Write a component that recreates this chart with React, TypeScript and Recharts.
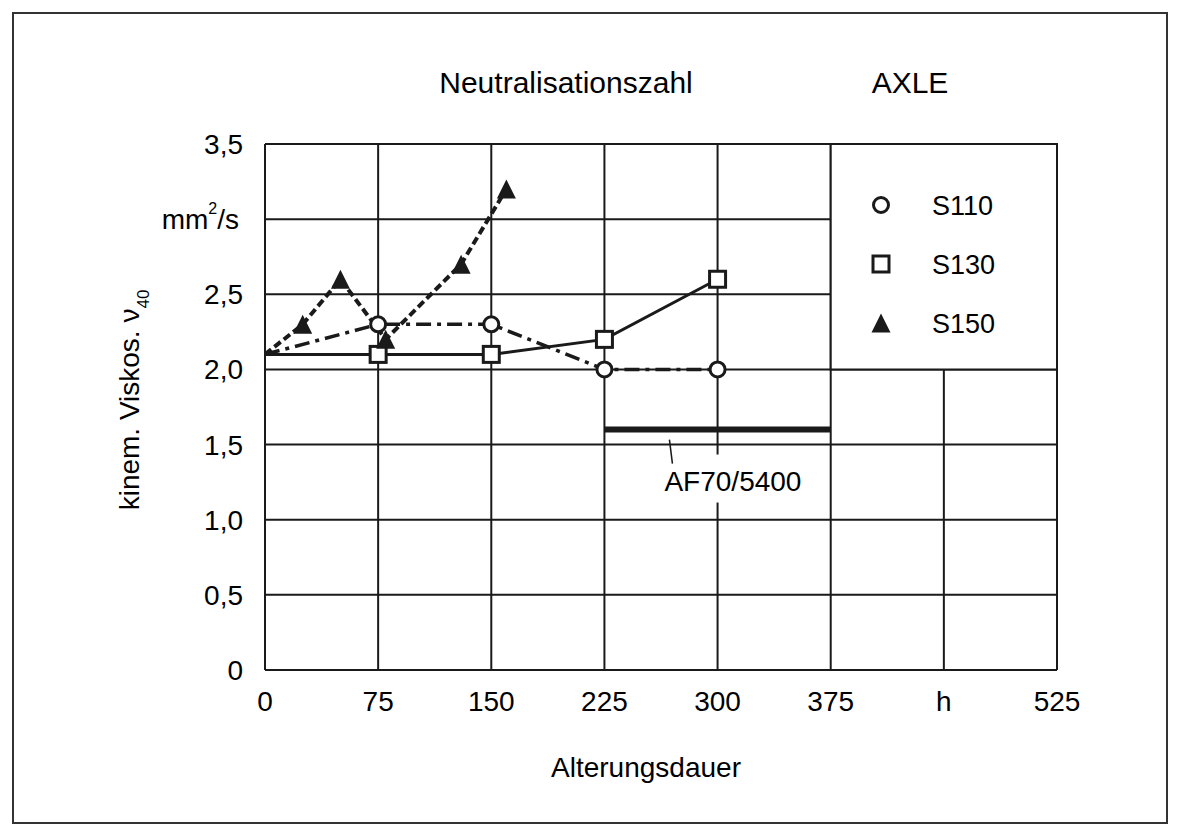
import React from 'react';
import {
  LineChart,
  Line,
  XAxis,
  YAxis,
  CartesianGrid,
  ReferenceArea,
  ReferenceLine,
  Legend
} from 'recharts';

// Ageing time in hours, kinematic viscosity at 40 °C in mm²/s
const s110Hours = [0, 75, 150, 225, 300];
const s110Visc = [2.1, 2.3, 2.3, 2.0, 2.0];

const s130Hours = [0, 75, 150, 225, 300];
const s130Visc = [2.1, 2.1, 2.1, 2.2, 2.6];

const s150Hours = [0, 25, 50, 80, 130, 160];
const s150Visc = [2.1, 2.3, 2.6, 2.2, 2.7, 3.2];

const xTicks = [0, 75, 150, 225, 300, 375, 450, 525];
const yTicks = [0, 0.5, 1, 1.5, 2, 2.5, 3, 3.5];

// reference band of the fresh oil
const afBand = { name: 'AF70/5400', from: 225, to: 375, value: 1.6 };

// box that holds the legend
const legendBox = { x1: 375, x2: 525, y1: 2, y2: 3.5 };

const INK = '#1a1a1a';
const FONT = '"Liberation Sans", Arial, Helvetica, sans-serif';
const FS = 28;

const zip = (xs: number[], ys: number[]) => xs.map((x, i) => ({ x, y: ys[i] }));

const s110 = zip(s110Hours, s110Visc);
const s130 = zip(s130Hours, s130Visc);
const s150 = zip(s150Hours, s150Visc);

const CircleMark = ({ cx, cy, r = 7.5 }: any) => (
  <circle cx={cx} cy={cy} r={r} fill="#fff" stroke={INK} strokeWidth={3} />
);

const SquareMark = ({ cx, cy, s = 16 }: any) => (
  <rect x={cx - s / 2} y={cy - s / 2} width={s} height={s} fill="#fff" stroke={INK} strokeWidth={3} />
);

const TriangleMark = ({ cx, cy, h = 9.5 }: any) => (
  <polygon points={`${cx},${cy - h} ${cx - h},${cy + h} ${cx + h},${cy + h}`} fill={INK} />
);

// no marker on the shared starting value
const dotFor = (Mark: React.FC<any>) => (props: any) => {
  if (props.payload.x === 0) return <g key={props.index} />;
  return <Mark key={props.index} cx={props.cx} cy={props.cy} />;
};

const seriesMeta = [
  { name: 'S110', Mark: CircleMark },
  { name: 'S130', Mark: SquareMark },
  { name: 'S150', Mark: TriangleMark }
];

const fmt = (v: number) => (v === 0 ? '0' : v.toFixed(1).replace('.', ','));

const YTick = ({ x, y, payload }: any) => {
  const v = payload.value;
  if (v === 3) {
    return (
      <text x={x - 4} y={y} dy="0.355em" textAnchor="end" fontSize={FS} fill="#000" fontFamily={FONT}>
        mm<tspan dy={-15} fontSize={16}>2</tspan>
        <tspan dy={15}>/s</tspan>
      </text>
    );
  }
  return (
    <text x={x} y={y} dy="0.355em" textAnchor="end" fontSize={FS} fill="#000" fontFamily={FONT}>
      {fmt(v)}
    </text>
  );
};

const XTick = ({ x, y, payload }: any) => (
  <text x={x} y={y} dy="0.71em" textAnchor="middle" fontSize={FS} fill="#000" fontFamily={FONT}>
    {payload.value === 450 ? 'h' : payload.value}
  </text>
);

const AfBandLabel = ({ viewBox }: any) => {
  if (!viewBox) return null;
  const { x, y } = viewBox;
  return (
    <g>
      <rect x={x + 52} y={y + 25} width={160} height={48} fill="#fff" />
      <line x1={x + 65} y1={y + 10} x2={x + 68} y2={y + 34} stroke={INK} strokeWidth={1.5} />
      <text x={x + 60} y={y + 61} fontSize={FS} fill="#000" fontFamily={FONT}>
        {afBand.name}
      </text>
    </g>
  );
};

const LegendContent = () => (
  <svg width={200} height={170}>
    {seriesMeta.map((s, i) => {
      const cy = 25 + i * 59;
      return (
        <g key={s.name}>
          <s.Mark cx={21} cy={cy} />
          <text x={72} y={cy} dy="0.355em" fontSize={27} fill="#000" fontFamily={FONT}>
            {s.name}
          </text>
        </g>
      );
    })}
  </svg>
);

export default function App() {
  return (
    <div
      style={{
        position: 'absolute',
        left: 0,
        top: 0,
        width: 1180,
        height: 836,
        background: '#fff',
        fontFamily: FONT
      }}
    >
      <div
        style={{
          position: 'absolute',
          left: 12,
          top: 12,
          width: 1156,
          height: 812,
          border: '2px solid #333',
          boxSizing: 'border-box'
        }}
      />
      <LineChart
        width={1180}
        height={836}
        margin={{ top: 144, right: 123, bottom: 106, left: 205 }}
        style={{ position: 'absolute', left: 0, top: 0 }}
      >
        <CartesianGrid stroke={INK} strokeWidth={2} />
        <XAxis
          type="number"
          dataKey="x"
          domain={[0, 525]}
          ticks={xTicks}
          height={60}
          tick={<XTick />}
          tickLine={false}
          tickSize={0}
          tickMargin={21}
          axisLine={{ stroke: INK, strokeWidth: 2 }}
          allowDataOverflow
        />
        <YAxis
          type="number"
          dataKey="y"
          domain={[0, 3.5]}
          ticks={yTicks}
          width={60}
          tick={<YTick />}
          tickLine={false}
          tickSize={0}
          tickMargin={22}
          axisLine={{ stroke: INK, strokeWidth: 2 }}
          allowDataOverflow
        />
        <ReferenceArea
          x1={legendBox.x1}
          x2={legendBox.x2}
          y1={legendBox.y1}
          y2={legendBox.y2}
          fill="#fff"
          fillOpacity={1}
          stroke={INK}
          strokeWidth={2}
        />
        <ReferenceLine
          segment={[
            { x: afBand.from, y: afBand.value },
            { x: afBand.to, y: afBand.value }
          ]}
          stroke={INK}
          strokeWidth={6}
          label={<AfBandLabel />}
        />
        <Line
          data={s130}
          dataKey="y"
          name="S130"
          stroke={INK}
          strokeWidth={3}
          dot={dotFor(SquareMark)}
          isAnimationActive={false}
        />
        <Line
          data={s110}
          dataKey="y"
          name="S110"
          stroke={INK}
          strokeWidth={3.5}
          strokeDasharray="15 6 4 6"
          dot={dotFor(CircleMark)}
          isAnimationActive={false}
        />
        <Line
          data={s150}
          dataKey="y"
          name="S150"
          stroke={INK}
          strokeWidth={4}
          strokeDasharray="8 4"
          dot={dotFor(TriangleMark)}
          isAnimationActive={false}
        />
        <Legend
          layout="vertical"
          align="center"
          verticalAlign="middle"
          content={<LegendContent />}
          wrapperStyle={{ left: 860, top: 180, width: 200, height: 170 }}
        />
        <text x={566} y={93} textAnchor="middle" fontSize={30} fill="#000" fontFamily={FONT}>
          Neutralisationszahl
        </text>
        <text x={910} y={93} textAnchor="middle" fontSize={30} fill="#000" fontFamily={FONT}>
          AXLE
        </text>
        <text x={646} y={777} textAnchor="middle" fontSize={FS} fill="#000" fontFamily={FONT}>
          Alterungsdauer
        </text>
        <text
          transform="translate(139,400) rotate(-90)"
          textAnchor="middle"
          fontSize={FS}
          fill="#000"
          fontFamily={FONT}
        >
          kinem. Viskos. ν<tspan dy={10} fontSize={17}>40</tspan>
        </text>
      </LineChart>
    </div>
  );
}
